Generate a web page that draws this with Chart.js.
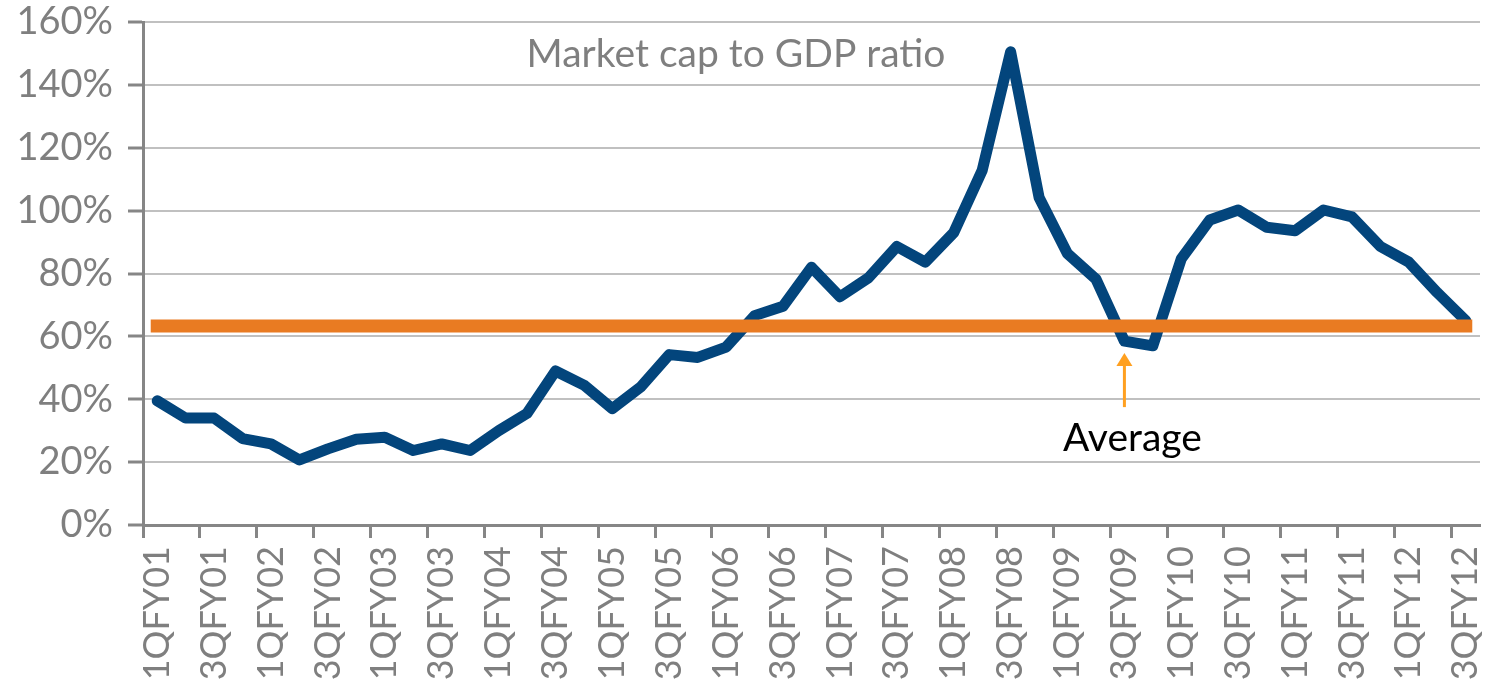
<!DOCTYPE html>
<html>
<head>
<meta charset="utf-8">
<title>Market cap to GDP ratio</title>
<script src="https://cdn.jsdelivr.net/npm/chart.js@4/dist/chart.umd.min.js"></script>
<style>
  html, body { margin: 0; padding: 0; background: #ffffff; }
  #wrap { position: relative; width: 1490px; height: 684px; }
</style>
</head>
<body>
<div id="wrap"><canvas id="capChart"></canvas></div>
<script>
// quarters, 1QFY01 .. 3QFY12
const quarters = [
    '1QFY01', '2QFY01', '3QFY01', '4QFY01',
    '1QFY02', '2QFY02', '3QFY02', '4QFY02',
    '1QFY03', '2QFY03', '3QFY03', '4QFY03',
    '1QFY04', '2QFY04', '3QFY04', '4QFY04',
    '1QFY05', '2QFY05', '3QFY05', '4QFY05',
    '1QFY06', '2QFY06', '3QFY06', '4QFY06',
    '1QFY07', '2QFY07', '3QFY07', '4QFY07',
    '1QFY08', '2QFY08', '3QFY08', '4QFY08',
    '1QFY09', '2QFY09', '3QFY09', '4QFY09',
    '1QFY10', '2QFY10', '3QFY10', '4QFY10',
    '1QFY11', '2QFY11', '3QFY11', '4QFY11',
    '1QFY12', '2QFY12', '3QFY12'
];

// market cap / GDP, in %
const capToGdp = [
    39.5, 34.0, 34.0, 27.5,
    25.8, 20.7, 24.2, 27.3,
    27.9, 23.7, 25.8, 23.7,
    30.0, 35.5, 49.0, 44.5,
    37.0, 43.9, 54.2, 53.3,
    56.6, 66.6, 69.6, 82.0,
    72.6, 78.6, 88.6, 83.6,
    93.0, 112.8, 150.5, 104.2,
    86.3, 78.2, 58.5, 57.0,
    84.7, 97.0, 100.2, 94.7,
    93.6, 100.2, 98.0, 88.6,
    83.6, 73.9, 65.0
];

const averageLevel = 63.3;
const averageArrowAt = '3QFY09';

const yTicks = [0, 20, 40, 60, 80, 100, 120, 140, 160];

const GREY = '#7f7f7f';
const AXIS = '#868686';
const FONT = 'Lato';

const notes = {
    id: 'notes',
    afterDatasetsDraw(chart) {
        const { ctx, scales: { x, y } } = chart;
        ctx.save();

        // title inside the plot
        ctx.fillStyle = GREY;
        ctx.font = '39px ' + FONT;
        ctx.textAlign = 'center';
        ctx.textBaseline = 'alphabetic';
        ctx.fillText('Market cap to GDP ratio', 736, 67);

        // arrow pointing at the dip under the average
        const ax = x.getPixelForValue(quarters.indexOf(averageArrowAt));
        const tip = y.getPixelForValue(54.7);
        const tail = y.getPixelForValue(37.5);
        ctx.strokeStyle = '#ffa020';
        ctx.fillStyle = '#ffa020';
        ctx.lineWidth = 3;
        ctx.beginPath();
        ctx.moveTo(ax, tail);
        ctx.lineTo(ax, tip + 10);
        ctx.stroke();
        ctx.beginPath();
        ctx.moveTo(ax, tip);
        ctx.lineTo(ax - 8, tip + 13);
        ctx.lineTo(ax + 8, tip + 13);
        ctx.closePath();
        ctx.fill();

        ctx.fillStyle = '#000000';
        ctx.font = '39px ' + FONT;
        ctx.fillText('Average', ax + 8, y.getPixelForValue(23.4));
        ctx.restore();
    }
};

new Chart(document.getElementById('capChart'), {
    type: 'line',
    data: {
        labels: quarters,
        datasets: [
            {
                label: 'Average',
                data: [
                    { x: quarters[0], y: averageLevel },
                    { x: quarters[quarters.length - 1], y: averageLevel }
                ],
                borderColor: '#e97b22',
                borderWidth: 13,
                borderCapStyle: 'square',
                pointRadius: 0,
                tension: 0,
                order: 0
            },
            {
                label: 'Market cap to GDP ratio',
                data: capToGdp,
                borderColor: '#03457c',
                borderWidth: 11,
                borderCapStyle: 'round',
                borderJoinStyle: 'round',
                pointRadius: 0,
                tension: 0,
                order: 1
            }
        ]
    },
    options: {
        responsive: true,
        maintainAspectRatio: false,
        animation: false,
        layout: { padding: { top: 22, right: 10, left: 0, bottom: 0 } },
        plugins: {
            legend: { display: false },
            tooltip: { enabled: false },
            title: { display: false }
        },
        scales: {
            x: {
                type: 'category',
                offset: true,
                afterFit: (scale) => {
                    scale.height = 159;
                    scale.paddingLeft = 0;
                    scale.paddingRight = 0;
                },
                grid: {
                    offset: true,
                    drawOnChartArea: false,
                    drawTicks: true,
                    tickLength: 13,
                    tickWidth: 3,
                    tickColor: (c) => (c.index % 2 === 0 ? AXIS : 'rgba(0,0,0,0)')
                },
                border: { color: AXIS, width: 3 },
                ticks: {
                    autoSkip: false,
                    minRotation: 90,
                    maxRotation: 90,
                    padding: 8,
                    color: GREY,
                    font: { family: FONT, size: 36 },
                    callback: (v, i) => (i % 2 === 0 ? quarters[i] : '')
                }
            },
            y: {
                min: 0,
                max: 160,
                afterFit: (scale) => {
                    scale.width = 143;
                    scale.paddingTop = 0;
                    scale.paddingBottom = 0;
                },
                afterBuildTicks: (scale) => { scale.ticks = yTicks.map(v => ({ value: v })); },
                grid: {
                    color: (c) => (c.tick && c.tick.value === 0 ? AXIS : '#c0c0c0'),
                    lineWidth: 2,
                    tickLength: 15,
                    tickWidth: 3,
                    tickColor: AXIS
                },
                border: { color: AXIS, width: 3 },
                ticks: {
                    padding: 15,
                    color: GREY,
                    font: { family: FONT, size: 38 },
                    callback: (v) => v + '%'
                }
            }
        }
    },
    plugins: [notes]
});
</script>
</body>
</html>
